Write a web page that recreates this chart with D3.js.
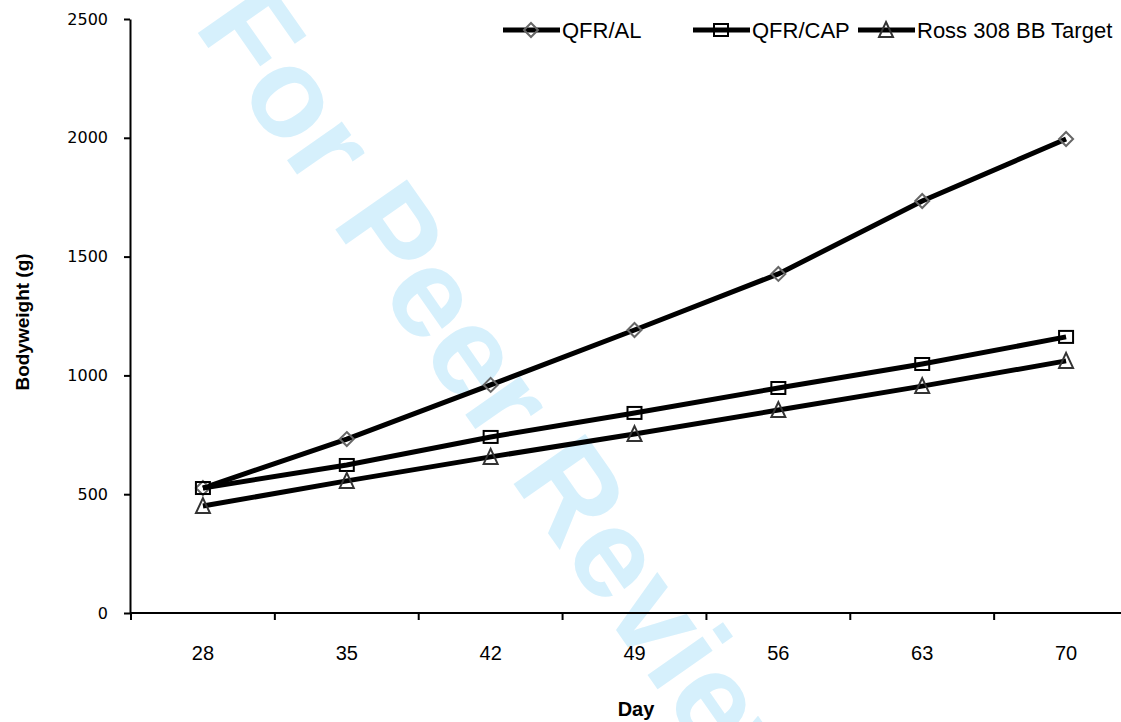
<!DOCTYPE html>
<html>
<head>
<meta charset="utf-8">
<script src="https://cdn.jsdelivr.net/npm/d3@7"></script>
<style>
    body { margin: 0; background: #fff; }
    svg { display: block; }
    .tick-y text { font-family: "DejaVu Sans", sans-serif; font-size: 16px; fill: #000; }
    .tick-x text { font-family: "Liberation Sans Narrow", "Liberation Sans", sans-serif; font-size: 20px; fill: #000; }
</style>
</head>
<body>
<svg id="chart" width="1121" height="722"></svg>
<script>
const days = [28, 35, 42, 49, 56, 63, 70];
const qfrAL = [526, 732, 960, 1191, 1427, 1734, 1995];
const qfrCAP = [526, 623, 741, 842, 947, 1048, 1162];
const rossTarget = [450, 556, 657, 753, 854, 955, 1061];
const yTicks = [0, 500, 1000, 1500, 2000, 2500];

const series = [
    { name: "QFR/AL", values: qfrAL, marker: "diamond" },
    { name: "QFR/CAP", values: qfrCAP, marker: "square" },
    { name: "Ross 308 BB Target", values: rossTarget, marker: "triangle" },
];

const svg = d3.select("#chart");

// watermark sits behind everything
svg.append("text")
    .attr("transform", "translate(193,26) rotate(55)")
    .attr("font-family", "Liberation Sans, Arial, sans-serif")
    .attr("font-weight", "bold")
    .attr("font-size", 127)
    .attr("fill", "#d6f0fc")
    .text("For Peer Review");

const x = d3.scaleBand().domain(days).range([131, 1138]);
const y = d3.scaleLinear().domain([0, 2500]).range([613, 19]);

// y axis
const yAxis = svg.append("g")
    .attr("class", "tick-y")
    .attr("transform", "translate(130,0)")
    .call(d3.axisLeft(y).tickValues(yTicks).tickFormat(d3.format("d"))
        .tickSize(6).tickPadding(16).tickSizeOuter(0));
yAxis.select(".domain").attr("stroke", "#000").attr("stroke-width", 2);
yAxis.selectAll(".tick line").attr("stroke", "#000").attr("stroke-width", 2);

// x axis: labels centred in the bands, ticks on band edges
const xAxis = svg.append("g")
    .attr("class", "tick-x")
    .attr("transform", "translate(0,613)")
    .call(d3.axisBottom(x).tickSize(0).tickPadding(33));
xAxis.select(".domain").remove();
xAxis.append("line")
    .attr("x1", 130).attr("x2", 1121)
    .attr("stroke", "#000").attr("stroke-width", 2);
xAxis.selectAll(".edge")
    .data(days)
    .enter()
    .append("line")
    .attr("class", "edge")
    .attr("x1", (d) => x(d)).attr("x2", (d) => x(d))
    .attr("y1", 0).attr("y2", 7)
    .attr("stroke", "#000").attr("stroke-width", 2);

// axis titles
svg.append("text")
    .attr("x", 636).attr("y", 716)
    .attr("text-anchor", "middle")
    .attr("font-family", "Liberation Sans Narrow, Liberation Sans, sans-serif")
    .attr("font-weight", "bold")
    .attr("font-size", 20)
    .text("Day");

svg.append("text")
    .attr("transform", "translate(29,322) rotate(-90)")
    .attr("text-anchor", "middle")
    .attr("font-family", "Liberation Sans Narrow, Liberation Sans, sans-serif")
    .attr("font-weight", "bold")
    .attr("font-size", 19)
    .text("Bodyweight (g)");

const cx = (i) => x(days[i]) + x.bandwidth() / 2;

const line = d3.line()
    .x((d, i) => cx(i))
    .y((d) => y(d));

function drawMarker(g, type) {
    if (type === "diamond") {
        g.append("path")
            .attr("d", "M0,-7L7,0L0,7L-7,0Z")
            .attr("fill", "none").attr("stroke", "#666").attr("stroke-width", 2);
    } else if (type === "square") {
        g.append("rect")
            .attr("x", -7).attr("y", -6).attr("width", 14).attr("height", 12)
            .attr("fill", "none").attr("stroke", "#000").attr("stroke-width", 2);
    } else {
        g.append("path")
            .attr("d", "M0,-8L7,7L-7,7Z")
            .attr("fill", "none").attr("stroke", "#333").attr("stroke-width", 2);
    }
}

series.forEach((s) => {
    svg.append("path")
        .datum(s.values)
        .attr("d", line)
        .attr("fill", "none")
        .attr("stroke", "#000")
        .attr("stroke-width", 5);

    s.values.forEach((v, i) => {
        const g = svg.append("g").attr("transform", `translate(${cx(i)},${y(v)})`);
        drawMarker(g, s.marker);
    });
});

// legend
const legendX = [503, 693, 858];
series.forEach((s, i) => {
    const g = svg.append("g").attr("transform", `translate(${legendX[i]},30)`);
    g.append("line")
        .attr("x1", 0).attr("x2", 57)
        .attr("stroke", "#000").attr("stroke-width", 5);
    const m = g.append("g").attr("transform", "translate(28,0)");
    drawMarker(m, s.marker);
    g.append("text")
        .attr("x", 59).attr("y", 8)
        .attr("font-family", "Liberation Sans Narrow, Liberation Sans, sans-serif")
        .attr("font-size", 22)
        .text(s.name);
});
</script>
</body>
</html>
